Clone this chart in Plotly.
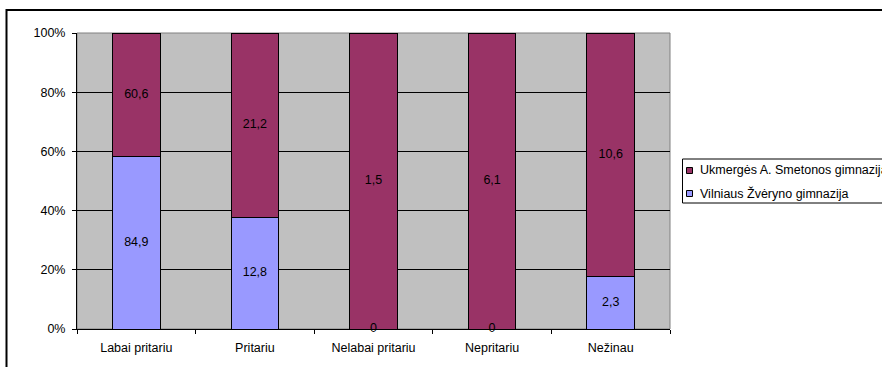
import plotly.graph_objects as go

categories = ["Labai pritariu", "Pritariu", "Nelabai pritariu", "Nepritariu", "Nežinau"]
vilnius_name = "Vilniaus Žvėryno gimnazija"
ukmerge_name = "Ukmergės A. Smetonos gimnazija"
vilnius_values = [84.9, 12.8, 0, 0, 2.3]
ukmerge_values = [60.6, 21.2, 1.5, 6.1, 10.6]
y_ticks = [0, 20, 40, 60, 80, 100]

VIL_COLOR = "#9999FF"
UKM_COLOR = "#993366"

def fmt(v):
    return f"{v:g}".replace(".", ",")

totals = [a + b for a, b in zip(vilnius_values, ukmerge_values)]
vil_pct = [a / t * 100 for a, t in zip(vilnius_values, totals)]
ukm_pct = [b / t * 100 for b, t in zip(ukmerge_values, totals)]

FONT = "Liberation Sans, Arial, sans-serif"
FS = 12.5

fig = go.Figure()
fig.add_trace(go.Bar(
    x=categories, y=vil_pct, name=vilnius_name,
    marker=dict(color=VIL_COLOR, line=dict(color="#000000", width=1)),
    hoverinfo="skip", showlegend=False,
))
fig.add_trace(go.Bar(
    x=categories, y=ukm_pct, name=ukmerge_name,
    marker=dict(color=UKM_COLOR, line=dict(color="#000000", width=1)),
    hoverinfo="skip", showlegend=False,
))

# data labels at segment centres
lab_x = categories + categories
lab_y = [p / 2 for p in vil_pct] + [v + u / 2 for v, u in zip(vil_pct, ukm_pct)]
lab_t = [fmt(v) for v in vilnius_values] + [fmt(v) for v in ukmerge_values]
fig.add_trace(go.Scatter(
    x=lab_x, y=lab_y, text=lab_t, mode="text",
    textfont=dict(family=FONT, size=FS, color="#000000"),
    showlegend=False, hoverinfo="skip", cliponaxis=False,
))

L, T, R, B = 77, 33, 670, 329
W, H = 882, 367
pw, ph = R - L, B - T

def px_x(p):
    return (p - L) / pw

def px_y(p):
    return 1 - (p - T) / ph

shapes = [
    dict(type="rect", xref="paper", yref="paper", x0=0, x1=1, y0=0, y1=1,
         line=dict(color="#808080", width=1), layer="below"),
    dict(type="rect", xref="paper", yref="paper",
         x0=px_x(6.5), x1=px_x(W + 20), y0=px_y(H + 20), y1=px_y(10),
         line=dict(color="#000000", width=2), layer="above"),
    # legend box
    dict(type="rect", xref="paper", yref="paper",
         x0=px_x(682.5), x1=px_x(W + 20), y0=px_y(203), y1=px_y(159),
         line=dict(color="#000000", width=1), fillcolor="#FFFFFF", layer="above"),
]
annotations = []
legend_items = [(ukmerge_name, UKM_COLOR, 170.5), (vilnius_name, VIL_COLOR, 193.5)]
for name, col, yc in legend_items:
    shapes.append(dict(type="rect", xref="paper", yref="paper",
                       x0=px_x(686.5), x1=px_x(692.5), y0=px_y(yc + 3), y1=px_y(yc - 3),
                       line=dict(color="#000000", width=1), fillcolor=col, layer="above"))
    annotations.append(dict(xref="paper", yref="paper", x=px_x(697.5), y=px_y(yc),
                            xanchor="left", yanchor="middle", text=name, showarrow=False,
                            font=dict(family=FONT, size=FS, color="#000000")))

fig.update_layout(
    width=W, height=H,
    margin=dict(l=L, r=W - R, t=T, b=H - B, pad=0, autoexpand=False),
    barmode="stack", bargap=0.6,
    plot_bgcolor="#C0C0C0", paper_bgcolor="#FFFFFF",
    font=dict(family=FONT, size=FS, color="#000000"),
    showlegend=False,
    shapes=shapes, annotations=annotations,
)
fig.update_xaxes(
    type="category", showgrid=False, showline=True, linecolor="#000000", linewidth=1,
    ticks="outside", ticklen=4, tickcolor="#000000", tickson="boundaries",
    ticklabelstandoff=7,
    tickfont=dict(family=FONT, size=FS, color="#000000"), fixedrange=True,
)
fig.update_yaxes(
    range=[0, 100], tickvals=y_ticks, ticktext=[f"{v}%" for v in y_ticks],
    showgrid=True, gridcolor="#000000", gridwidth=1,
    showline=True, linecolor="#000000", linewidth=1,
    ticks="outside", ticklen=4, tickcolor="#000000", zeroline=False,
    ticklabelstandoff=4,
    tickfont=dict(family=FONT, size=FS, color="#000000"), fixedrange=True,
)

fig.write_html(
    "out.html",
    config={"displayModeBar": False, "responsive": False},
    post_script="document.body.style.margin='0px';document.body.style.overflow='hidden';",
)
